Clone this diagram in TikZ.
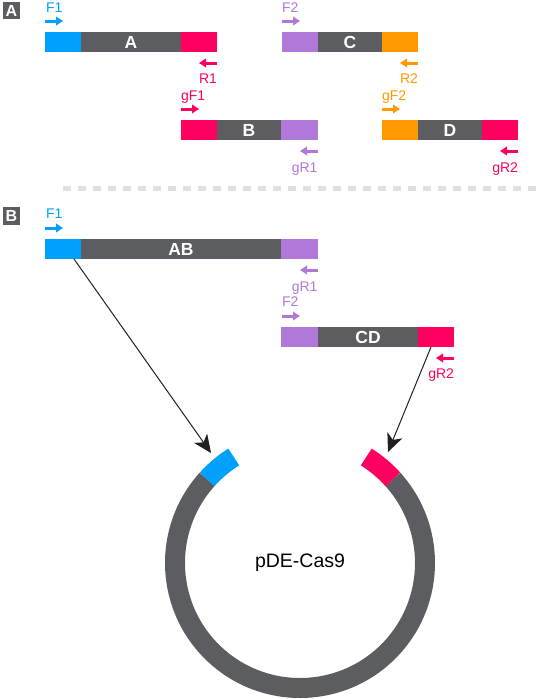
\documentclass[tikz,border=0pt]{standalone}
\usepackage{fontspec}
\setmainfont{Liberation Sans}
\usetikzlibrary{arrows.meta}
\definecolor{cblue}{RGB}{0,160,255}
\definecolor{cred}{RGB}{255,0,96}
\definecolor{cpurple}{RGB}{176,120,216}
\definecolor{corange}{RGB}{255,153,0}
\definecolor{cgrey}{RGB}{92,93,97}
\definecolor{cdash}{RGB}{224,224,224}
\definecolor{cink}{RGB}{35,31,32}
\begin{document}
\begin{tikzpicture}[x=1pt,y=-1pt,
  seg/.style={rectangle, inner sep=0pt, outer sep=0pt, minimum height=20pt, anchor=west, text=white, font=\bfseries\fontsize{17.5}{17.5}\selectfont},
  primer/.style={line width=3pt, -{Triangle[length=7pt,width=8.5pt]}},
  plabel/.style={inner sep=0pt, outer sep=0pt, font=\fontsize{14}{14}\selectfont},
  tagbox/.style={rectangle, fill=cgrey, text=white, inner sep=0pt, minimum size=17.5pt, font=\bfseries\fontsize{16}{16}\selectfont},
  conn/.style={line width=1pt, draw=cink, -{Stealth[length=18pt,width=16pt,inset=5pt]}},
  ring/.style={line width=20pt}
]
\useasboundingbox (0,0) rectangle (536,699);

% section tags
\node[tagbox] (tagA) at (11.5,10.5) {A};
\node[tagbox] (tagB) at (11.5,216) {B};

% ---- Section A ----
% bar A
\node[seg, fill=cblue, minimum width=36pt] (a1) at (45,42) {};
\node[seg, fill=cgrey, minimum width=100pt] (a2) at (a1.east) {A};
\node[seg, fill=cred, minimum width=36pt] (a3) at (a2.east) {};
% bar C
\node[seg, fill=cpurple, minimum width=36pt] (c1) at (282,42) {};
\node[seg, fill=cgrey, minimum width=64pt] (c2) at (c1.east) {C};
\node[seg, fill=corange, minimum width=36pt] (c3) at (c2.east) {};
% bar B
\node[seg, fill=cred, minimum width=36pt] (b1) at (181,130) {};
\node[seg, fill=cgrey, minimum width=64pt] (b2) at (b1.east) {B};
\node[seg, fill=cpurple, minimum width=37pt] (b3) at (b2.east) {};
% bar D
\node[seg, fill=corange, minimum width=36pt] (d1) at (382,130) {};
\node[seg, fill=cgrey, minimum width=64pt] (d2) at (d1.east) {D};
\node[seg, fill=cred, minimum width=36pt] (d3) at (d2.east) {};

% primers section A
\node[plabel, text=cblue, anchor=base west] (lF1) at (46,12) {F1};
\draw[primer, cblue] (45,21) -- (63,21);
\node[plabel, text=cpurple, anchor=base west] (lF2) at (282,12) {F2};
\draw[primer, cpurple] (282,21) -- (300,21);
\draw[primer, cred] (217,63) -- (199,63);
\node[plabel, text=cred, anchor=base east] (lR1) at (217,83) {R1};
\draw[primer, corange] (418,63) -- (400,63);
\node[plabel, text=corange, anchor=base east] (lR2) at (418,83) {R2};
\node[plabel, text=cred, anchor=base west] (lgF1) at (181,100) {gF1};
\draw[primer, cred] (181,109) -- (199,109);
\node[plabel, text=corange, anchor=base west] (lgF2) at (382,100) {gF2};
\draw[primer, corange] (382,109) -- (400,109);
\draw[primer, cpurple] (318,151) -- (300,151);
\node[plabel, text=cpurple, anchor=base east] (lgR1) at (317.5,172) {gR1};
\draw[primer, cred] (518,151) -- (500,151);
\node[plabel, text=cred, anchor=base east] (lgR2) at (518,172) {gR2};

% divider
\draw[cdash, line width=5pt, dash pattern=on 8pt off 7pt] (63,188) -- (536,188);

% ---- Section B ----
\node[seg, fill=cblue, minimum width=36pt] (ab1) at (45,249) {};
\node[seg, fill=cgrey, minimum width=200pt] (ab2) at (ab1.east) {AB};
\node[seg, fill=cpurple, minimum width=37pt] (ab3) at (ab2.east) {};

\node[seg, fill=cpurple, minimum width=37pt] (cd1) at (281,337) {};
\node[seg, fill=cgrey, minimum width=100pt] (cd2) at (cd1.east) {CD};
\node[seg, fill=cred, minimum width=36pt] (cd3) at (cd2.east) {};

\node[plabel, text=cblue, anchor=base west] (lF1b) at (46,218) {F1};
\draw[primer, cblue] (45,228) -- (63,228);
\draw[primer, cpurple] (318,270) -- (300,270);
\node[plabel, text=cpurple, anchor=base east] (lgR1b) at (317.5,291) {gR1};
\node[plabel, text=cpurple, anchor=base west] (lF2b) at (282,306) {F2};
\draw[primer, cpurple] (282,316) -- (300,316);
\draw[primer, cred] (454,358) -- (436,358);
\node[plabel, text=cred, anchor=base east] (lgR2b) at (454,378) {gR2};

% plasmid
\coordinate (ctr) at (300,563);
\draw[ring, cgrey] (ctr) ++(-138:125) arc[start angle=-138, end angle=-402, radius=125];
\draw[ring, cblue] (ctr) ++(-122:125) arc[start angle=-122, end angle=-138, radius=125];
\draw[ring, cred] (ctr) ++(-42:125) arc[start angle=-42, end angle=-58, radius=125];
\node[font=\fontsize{19.5}{19.5}\selectfont, text=black] (plasmid) at (ctr) {pDE-Cas9};

% connectors
\coordinate (t1) at (211,453);
\coordinate (t2) at (388,452);
\draw[conn] ([xshift=-7pt]ab1.south east) -- (t1);
\draw[conn] ([xshift=13pt]cd3.south west) -- (t2);
\end{tikzpicture}
\end{document}
